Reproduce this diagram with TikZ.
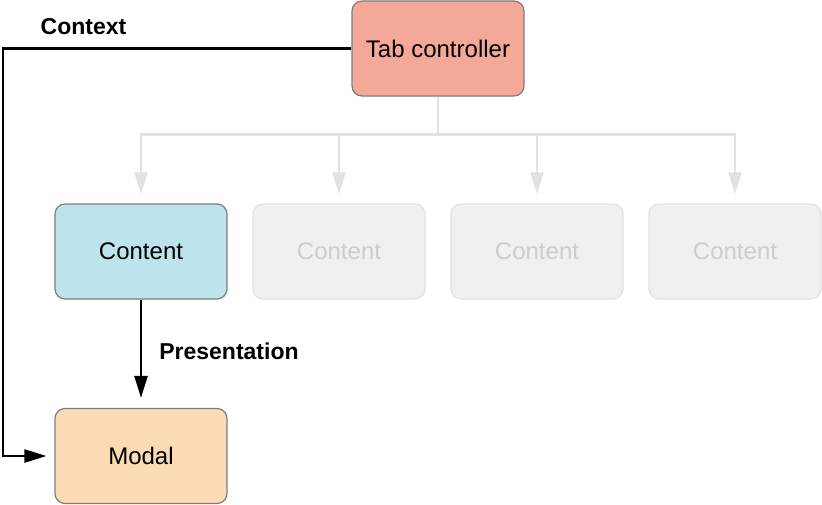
\documentclass[tikz,border=0pt]{standalone}
\usepackage{fontspec}
\setmainfont{Liberation Sans}
\usetikzlibrary{arrows.meta,calc}
\definecolor{tabfill}{RGB}{244,168,152}
\definecolor{bluefill}{RGB}{189,227,236}
\definecolor{modalfill}{RGB}{252,218,180}
\definecolor{boxline}{RGB}{125,125,125}
\definecolor{fadefill}{RGB}{240,240,240}
\definecolor{fadeline}{RGB}{226,226,226}
\definecolor{fadetext}{RGB}{205,205,205}

\begin{document}
\begin{tikzpicture}[x=1pt,y=-1pt,
  box/.style={rectangle,rounded corners=10pt,minimum width=172pt,minimum height=95pt,
    inner sep=0pt,draw=boxline,line width=1.2pt,font=\fontsize{24}{28}\selectfont},
  fadebox/.style={box,draw=fadeline,fill=fadefill,text=fadetext},
  lbl/.style={font=\fontsize{23}{27}\selectfont\bfseries},
  blackarrow/.style={line width=2.5pt,-{Triangle[length=22pt,width=13pt]}},
  grayarrow/.style={line width=2.5pt,draw=fadeline,-{Triangle[length=22pt,width=13pt]},
    shorten >=9pt}]
  \useasboundingbox (0,0) rectangle (822,504);
  \node[box,fill=tabfill] (tab) at (438,48.5) {Tab controller};
  \node[box,fill=bluefill] (c1) at (141,251.5) {Content};
  \node[fadebox] (c2) at (339,251.5) {Content};
  \node[fadebox] (c3) at (537,251.5) {Content};
  \node[fadebox] (c4) at (735,251.5) {Content};
  \node[box,fill=modalfill] (modal) at (141,456) {Modal};
  \node[lbl] (context) at (83.5,27) {Context};
  \node[lbl] (presentation) at (229,351) {Presentation};
  \coordinate (split) at (438,134.5);
  \coordinate (corner) at (3,48.5);
  % tab controller to its children
  \draw[line width=2.5pt,fadeline] (tab.south) -- (split);
  \draw[grayarrow] (split) -| (c1.north);
  \draw[grayarrow] (split) -| (c2.north);
  \draw[grayarrow] (split) -| (c3.north);
  \draw[grayarrow] (split) -| (c4.north);
  % context and presentation
  \draw[blackarrow,shorten >=8pt] (tab.west) -- (corner) |- (modal.west);
  \draw[blackarrow,shorten >=10pt] (c1.south) -- (modal.north);
\end{tikzpicture}
\end{document}
